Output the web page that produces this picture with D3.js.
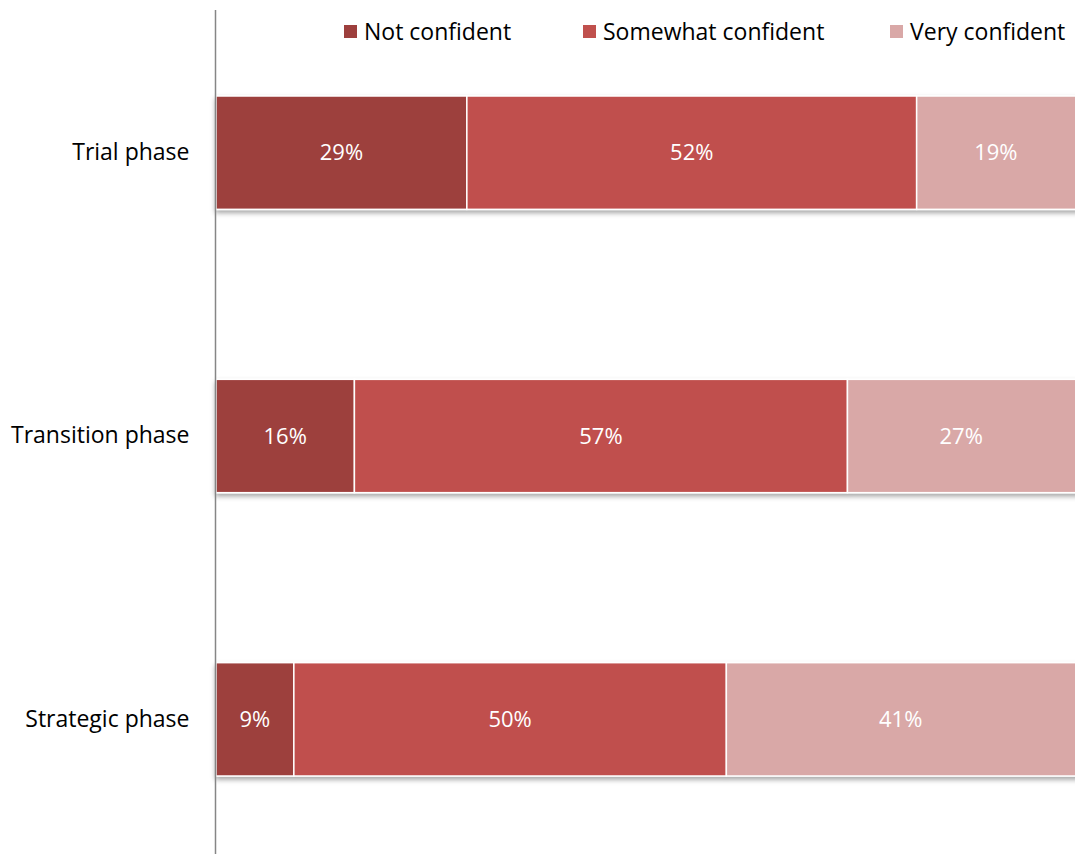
<!DOCTYPE html>
<html>
<head>
<meta charset="utf-8">
<script src="https://cdn.jsdelivr.net/npm/d3@7"></script>
<style>
  body { margin: 0; background: #fff; }
  svg { display: block; font-family: "Open Sans", "Noto Sans", sans-serif; }
</style>
</head>
<body>
<div id="chart"></div>
<script>
// data
const phases = ['Trial phase', 'Transition phase', 'Strategic phase'];
const seriesNames = ['Not confident', 'Somewhat confident', 'Very confident'];
const notConfident = [29, 16, 9];
const somewhatConfident = [52, 57, 50];
const veryConfident = [19, 27, 41];
const seriesColors = ['#9D3F3D', '#C0504D', '#D9A8A7'];

const width = 1075, height = 854;

const svg = d3.select('#chart').append('svg')
    .attr('width', width)
    .attr('height', height);

// shadow under the bars
const defs = svg.append('defs');
const shadow = defs.append('filter').attr('id', 'shadow')
    .attr('x', '-5%').attr('y', '-5%').attr('width', '110%').attr('height', '130%');
shadow.append('feDropShadow')
    .attr('dx', 0).attr('dy', 3).attr('stdDeviation', 2.5)
    .attr('flood-color', '#000').attr('flood-opacity', 0.35);

const rows = phases.map((p, i) => ({
    phase: p,
    'Not confident': notConfident[i],
    'Somewhat confident': somewhatConfident[i],
    'Very confident': veryConfident[i]
}));

const stacked = d3.stack().keys(seriesNames)(rows);

const x = d3.scaleLinear().domain([0, 100]).range([216, 1081]);
const y = d3.scaleBand().domain(phases).range([11, 861])
    .paddingInner(0.6).paddingOuter(0.3);
const color = d3.scaleOrdinal().domain(seriesNames).range(seriesColors);

// bars (one group per category so the shadow is cast by the whole bar)
const barGroups = svg.append('g');
phases.forEach((p, i) => {
    const g = barGroups.append('g').attr('filter', 'url(#shadow)');
    stacked.forEach(s => {
        const d = s[i];
        g.append('rect')
            .attr('x', x(d[0]))
            .attr('y', y(p))
            .attr('width', x(d[1]) - x(d[0]))
            .attr('height', y.bandwidth())
            .attr('fill', color(s.key))
            .attr('stroke', '#fff')
            .attr('stroke-width', 1.5);
    });
});

// value labels
stacked.forEach(s => {
    svg.append('g').selectAll('text')
        .data(s)
        .join('text')
        .attr('x', d => (x(d[0]) + Math.min(x(d[1]), width)) / 2)
        .attr('y', (d, i) => y(phases[i]) + y.bandwidth() / 2)
        .attr('dy', '0.35em')
        .attr('text-anchor', 'middle')
        .attr('fill', '#fff')
        .attr('font-size', 22)
        .text(d => (d[1] - d[0]) + '%');
});

// category axis
const yAxis = svg.append('g')
    .attr('transform', 'translate(215.5,0)')
    .call(d3.axisLeft(y).tickSize(0).tickPadding(26));
yAxis.select('.domain').remove();
yAxis.selectAll('text')
    .attr('font-size', 23)
    .attr('font-family', '"Open Sans", "Noto Sans", sans-serif')
    .attr('fill', '#000');
svg.append('line')
    .attr('x1', 215.5).attr('x2', 215.5)
    .attr('y1', 10).attr('y2', height)
    .attr('stroke', '#868686').attr('stroke-width', 1.5);

// legend
const legendX = [344, 583, 890];
const legend = svg.append('g');
seriesNames.forEach((name, i) => {
    const lg = legend.append('g').attr('transform', `translate(${legendX[i]},25)`);
    lg.append('rect')
        .attr('width', 13).attr('height', 13)
        .attr('fill', seriesColors[i]);
    lg.append('text')
        .attr('x', 20).attr('y', 6.5)
        .attr('dy', '0.36em')
        .attr('font-size', 23)
        .attr('fill', '#000')
        .text(name);
});
</script>
</body>
</html>
